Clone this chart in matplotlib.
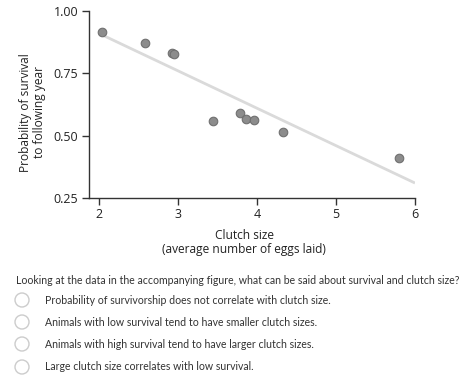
import matplotlib
matplotlib.use("Agg")
import matplotlib.pyplot as plt
from matplotlib.patches import Circle

clutch_size = [2.04, 2.58, 2.93, 2.95, 3.44, 3.79, 3.86, 3.96, 4.33, 5.80]
survival = [0.914, 0.870, 0.830, 0.828, 0.559, 0.590, 0.567, 0.564, 0.515, 0.412]
fit_x = [2.0, 6.0]
fit_y = [0.91, 0.31]
x_ticks = [2, 3, 4, 5, 6]
y_ticks = [0.25, 0.50, 0.75, 1.00]
y_tick_labels = ["0.25", "0.50", "0.75", "1.00"]
question = "Looking at the data in the accompanying figure, what can be said about survival and clutch size?"
options = [
    "Probability of survivorship does not correlate with clutch size.",
    "Animals with low survival tend to have smaller clutch sizes.",
    "Animals with high survival tend to have larger clutch sizes.",
    "Large clutch size correlates with low survival.",
]

W, H = 474, 378
fig = plt.figure(figsize=(W / 100, H / 100), dpi=100)
ax = fig.add_axes([88.5 / W, 1 - 198 / H, (415 - 88.5) / W, (198 - 11) / H])

chart_font = "Open Sans"
ax.plot(fit_x, fit_y, color="#dadada", lw=2, solid_capstyle="butt", zorder=1)
ax.scatter(clutch_size, survival, s=38, color="#8c8c8c", edgecolor="#707070",
           linewidth=0.8, zorder=2)

ax.set_xlim(2 - 10.5 / 79, 6)
ax.set_ylim(0.25, 1.0)
ax.set_xticks(x_ticks)
ax.set_yticks(y_ticks)
ax.set_yticklabels(y_tick_labels)
for s in ["top", "right"]:
    ax.spines[s].set_visible(False)
for s in ["left", "bottom"]:
    ax.spines[s].set_color("#333333")
    ax.spines[s].set_linewidth(1.0)
ax.tick_params(direction="out", length=5, width=1, color="#333333",
               labelsize=9, labelcolor="#222222", pad=2.5)
for lab in ax.get_xticklabels() + ax.get_yticklabels():
    lab.set_family(chart_font)

fig.text(244 / W, 1 - 242.5 / H, "Clutch size\n(average number of eggs laid)",
         family=chart_font, fontsize=8.6, color="#222222", ha="center",
         va="center", linespacing=1.15)
fig.text(32.5 / W, 1 - 112.5 / H, "Probability of survival\nto following year",
         family=chart_font, fontsize=8.6, color="#222222", ha="center",
         va="center", rotation=90, linespacing=1.15)

q_font = "Lato"
fig.text(15.5 / W, 1 - 281 / H, question, family=q_font, fontsize=7.6,
         color="#333333", va="center", ha="left")
opt_y = [300, 322, 344, 367]
for yy, txt in zip(opt_y, options):
    fig.text(45 / W, 1 - yy / H, txt, family=q_font, fontsize=7.6,
             color="#333333", va="center", ha="left")
    fig.add_artist(Circle((22 / 100, (H - yy) / 100), 0.07,
                          transform=fig.dpi_scale_trans, facecolor="white",
                          edgecolor="#cccccc", lw=1))

fig.savefig("out.png", dpi=100)
